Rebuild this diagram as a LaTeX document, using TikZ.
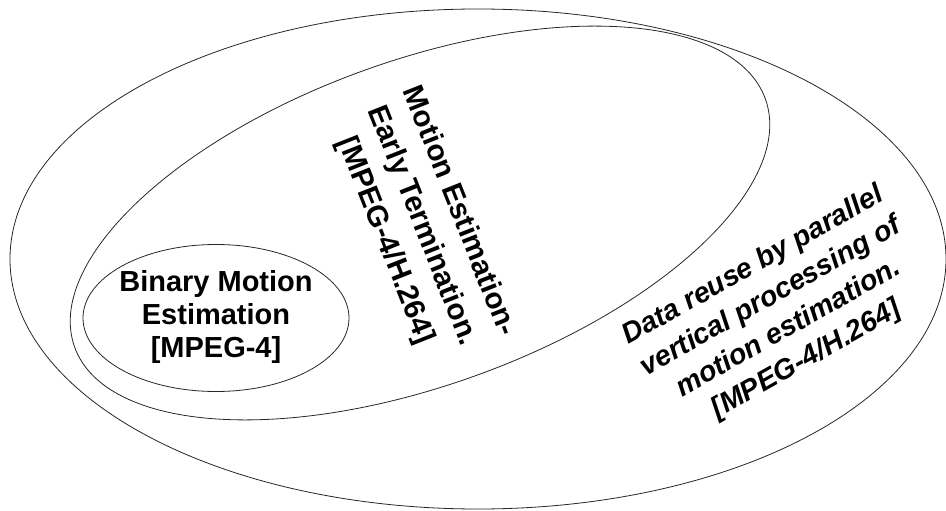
\documentclass[tikz,border=0pt]{standalone}
\usepackage{fontspec}
\setmainfont{Liberation Sans}
\usetikzlibrary{shapes.geometric}
\tikzset{
  set/.style={ellipse, draw=black!85, line width=0.8pt, inner sep=0pt},
  label/.style={align=center, inner sep=0pt, font=\bfseries}
}
\begin{document}
\begin{tikzpicture}[x=1pt, y=-1pt]
  \useasboundingbox (0,0) rectangle (946,511);
  % nested sets
  \node[set, minimum width=936pt, minimum height=500pt] (outer) at (478,259) {};
  \node[set, minimum width=734pt, minimum height=325pt, rotate=19.75] (middle) at (420,223) {};
  \node[set, minimum width=266pt, minimum height=147pt] (inner) at (216,318) {};
  % labels
  \node[label, font=\bfseries\fontsize{29}{33}\selectfont] (binary) at (216,317)
    {Binary Motion\\Estimation\\{[}MPEG-4{]}};
  \node[label, font=\bfseries\fontsize{29.5}{39.5}\selectfont, rotate=-68.4] (early) at (422,226)
    {Motion Estimation-\\Early Termination.\\{[}MPEG-4/H.264{]}};
  \node[label, font=\bfseries\itshape\fontsize{28.5}{36}\selectfont, rotate=29.5] (reuse) at (780,313)
    {Data reuse by parallel\\vertical processing of\\motion estimation.\\{[}MPEG-4/H.264{]}};
\end{tikzpicture}
\end{document}
